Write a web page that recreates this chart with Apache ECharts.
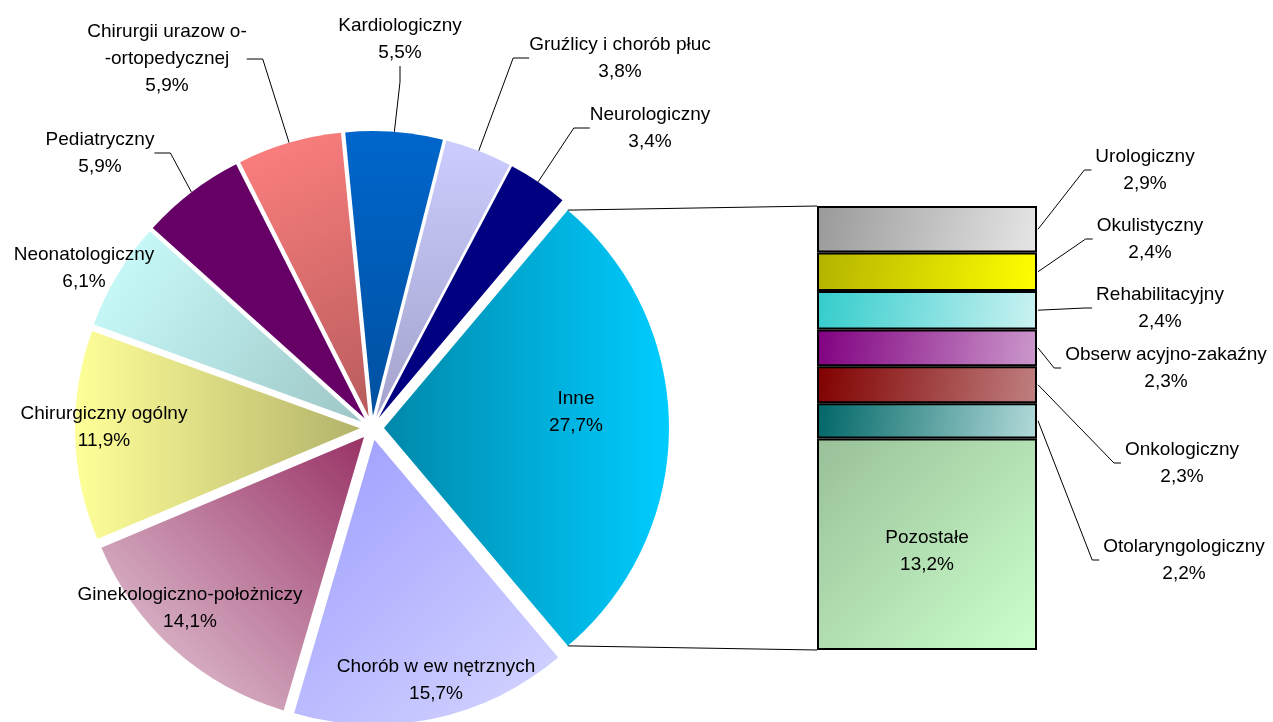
<!DOCTYPE html>
<html lang="pl">
<head>
<meta charset="UTF-8">
<title>Struktura oddziałów</title>
<script src="https://cdn.jsdelivr.net/npm/echarts@6/dist/echarts.min.js"></script>
<style>html,body{margin:0;padding:0;background:#fff}</style>
</head>
<body>
<div id="content" style="width:1273px;height:722px"></div>
<script>
// dane koła (zgodnie z ruchem wskazówek zegara, od "Inne")
var pieNames = ['Inne', 'Chorób w ew nętrznych', 'Ginekologiczno-położniczy', 'Chirurgiczny ogólny',
    'Neonatologiczny', 'Pediatryczny', 'Chirurgii urazow o-\n-ortopedycznej', 'Kardiologiczny',
    'Gruźlicy i chorób płuc', 'Neurologiczny'];
var pieValues = [27.7, 15.7, 14.1, 11.9, 6.1, 5.9, 5.9, 5.5, 3.8, 3.4];

// rozbicie "Inne" na słupku (od dołu do góry)
var barNames = ['Pozostałe', 'Otolaryngologiczny', 'Onkologiczny', 'Obserw acyjno-zakaźny',
    'Rehabilitacyjny', 'Okulistyczny', 'Urologiczny'];
var barValues = [13.2, 2.2, 2.3, 2.3, 2.4, 2.4, 2.9];

// wygląd
var FONT = '"Liberation Sans", Arial, sans-serif';
var FS = 19, LH = 27;
var pieCenter = [372, 428], pieR = 285, explode = 12;
var barLeft = 817, barTop = 206, barW = 220, barH = 444;

// gradienty [x, y, x2, y2, kolor0, kolor1]
var pieColors = [
    [0, 0, 1, 0, '#0088aa', '#00ccff'],
    [0, 0, 1, 1, '#9c9cff', '#d6d6ff'],
    [1, 0, 0, 1, '#993366', '#e8d2de'],
    [1, 0, 0, 0, '#b3b36b', '#ffff99'],
    [0, 0, 1, 1, '#ccffff', '#9ec6c6'],
    [0, 0, 1, 1, '#660066', '#660066'],
    [0, 0, 1, 1, '#ff8080', '#b85c5c'],
    [0, 0, 0, 1, '#0066cc', '#0050a0'],
    [0, 0, 0, 1, '#ccccff', '#a3a3cc'],
    [0, 0, 1, 1, '#000080', '#000080']
];
var barColors = [
    [0, 0, 1, 1, '#99c099', '#ccffcc'],
    [0, 0, 1, 1, '#006666', '#b3dada'],
    [0, 0, 1, 1, '#800000', '#c08080'],
    [0, 0, 1, 1, '#800080', '#cc99cc'],
    [0, 0, 1, 1, '#33cccc', '#ccf2f2'],
    [0, 0, 1, 1, '#b3b300', '#ffff00'],
    [0, 0, 1, 1, '#999999', '#e6e6e6']
];
// środki etykiet
var pieLabelPos = [[576, 412], [436, 680], [190, 608], [104, 427], [84, 268],
    [100, 153], [167, 59], [400, 39], [620, 58], [650, 128]];
var pieLine = [false, false, false, false, false, true, true, true, true, true];
var barLabelPos = [null, [1184, 560], [1182, 463], [1166, 368], [1160, 308], [1150, 239], [1145, 170]];

function grad(g) {
    return new echarts.graphic.LinearGradient(g[0], g[1], g[2], g[3],
        [{offset: 0, color: g[4]}, {offset: 1, color: g[5]}]);
}
function pct(v) {
    return String(v).replace('.', ',') + '%';
}

var total = pieValues.reduce(function (a, b) { return a + b; }, 0);
var startAngle = 360 * pieValues[0] / total / 2;

// każdy wycinek jako osobna seria, przesunięta wzdłuż swojej dwusiecznej (efekt "rozsunięcia")
var series = [];
var acc = 0;
pieNames.forEach(function (name, i) {
    var mid = (startAngle - 360 * (acc + pieValues[i] / 2) / total) * Math.PI / 180;
    acc += pieValues[i];
    var c = [pieCenter[0] + explode * Math.cos(mid), pieCenter[1] - explode * Math.sin(mid)];
    series.push({
        type: 'pie',
        center: c,
        radius: pieR,
        startAngle: startAngle,
        clockwise: true,
        avoidLabelOverlap: false,
        animation: false,
        silent: true,
        emphasis: {disabled: true},
        itemStyle: {borderWidth: 0},
        label: {
            show: true,
            position: 'outside',
            color: '#000',
            fontFamily: FONT,
            fontSize: FS,
            lineHeight: LH,
            formatter: function (p) { return p.name + '\n' + pct(p.value); }
        },
        labelLine: {show: pieLine[i], length: 10, length2: 16, smooth: false,
            lineStyle: {color: '#000', width: 1}},
        labelLayout: function (p) {
            if (p.dataIndex !== i) return {};
            return {x: pieLabelPos[i][0], y: pieLabelPos[i][1], align: 'center', verticalAlign: 'middle'};
        },
        data: pieNames.map(function (n, j) {
            if (j !== i) {
                return {name: n, value: pieValues[j], itemStyle: {color: 'rgba(0,0,0,0)'},
                    label: {show: false}, labelLine: {show: false}};
            }
            return {name: n, value: pieValues[j], itemStyle: {color: grad(pieColors[j])}};
        })
    });
});

barNames.forEach(function (n, i) {
    var s = {
        type: 'bar',
        name: n,
        stack: 'inne',
        barWidth: '100%',
        animation: false,
        emphasis: {disabled: true},
        itemStyle: {color: grad(barColors[i]), borderColor: '#000', borderWidth: 2},
        label: {
            show: true,
            color: '#000',
            fontFamily: FONT,
            fontSize: FS,
            lineHeight: LH,
            formatter: function (p) { return p.seriesName + '\n' + pct(p.value); }
        },
        data: [barValues[i]]
    };
    if (barLabelPos[i]) {
        s.labelLayout = {x: barLabelPos[i][0], y: barLabelPos[i][1], align: 'center', verticalAlign: 'middle'};
    } else {
        s.label.position = 'inside';
        s.label.offset = [0, 7];
    }
    series.push(s);
});

var stackTotal = barValues.reduce(function (a, b) { return a + b; }, 0);

var myChart = echarts.init(document.getElementById('content'), null, {renderer: 'canvas'});
myChart.setOption({
    backgroundColor: '#fff',
    animation: false,
    grid: {left: barLeft, top: barTop, width: barW, height: barH},
    xAxis: {type: 'category', data: [''], show: false},
    yAxis: {type: 'value', min: 0, max: stackTotal, show: false},
    series: series
});

// linie łączące i odnośniki słupka
var ctx = document.createElement('canvas').getContext('2d');
ctx.font = FS + 'px ' + FONT;
function textW(t) {
    return Math.max.apply(null, t.split('\n').map(function (l) { return ctx.measureText(l).width; }));
}

var graphics = [];
var endAngle = startAngle - 360 * pieValues[0] / total;
var midRad = (startAngle + endAngle) / 2 * Math.PI / 180;
var ox = pieCenter[0] + explode * Math.cos(midRad), oy = pieCenter[1] - explode * Math.sin(midRad);
[startAngle, endAngle].forEach(function (a, k) {
    var r = a * Math.PI / 180;
    var p0 = [ox + pieR * Math.cos(r), oy - pieR * Math.sin(r)];
    var b = myChart.convertToPixel({gridIndex: 0}, [0, k === 0 ? stackTotal : 0]);
    graphics.push({type: 'polyline', silent: true,
        shape: {points: [p0, [b[0] - barW / 2, b[1]]]},
        style: {stroke: '#000', lineWidth: 1, fill: null}});
});

var below = 0;
barValues.forEach(function (v, i) {
    var mid = below + v / 2;
    below += v;
    if (!barLabelPos[i]) return;
    var p = myChart.convertToPixel({gridIndex: 0}, [0, mid]);
    var cx = barLabelPos[i][0], cy = barLabelPos[i][1];
    var left = cx - textW(barNames[i] + '\n' + pct(v)) / 2 - 4;
    graphics.push({type: 'polyline', silent: true,
        shape: {points: [[p[0] + barW / 2 + 1, p[1]], [left - 7, cy], [left, cy]]},
        style: {stroke: '#000', lineWidth: 1, fill: null}});
});

myChart.setOption({graphic: graphics});
</script>
</body>
</html>
